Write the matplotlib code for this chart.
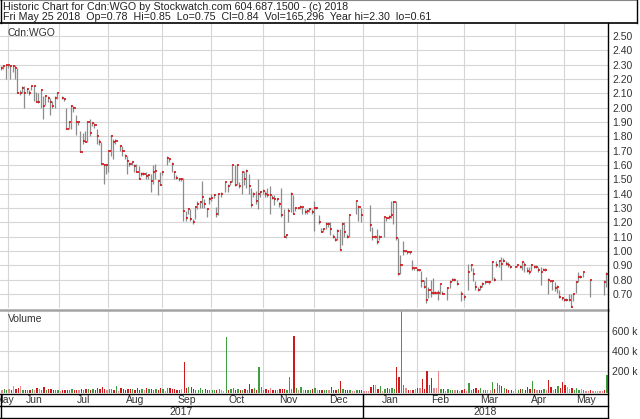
import matplotlib
matplotlib.use("Agg")
import matplotlib.pyplot as plt
import numpy as np
import pandas as pd
from matplotlib.lines import Line2D

plt.rcParams['font.family'] = ['Liberation Sans', 'DejaVu Sans']

nan = np.nan

# one value per weekday from 2017-05-29 to 2018-05-25 (nan = holiday / no trade)
highs = [
    2.29, 2.30, 2.30,  # May
    2.30, 2.30, 2.30, 2.30, 2.28, 2.12, 2.15, 2.15, 2.14, 2.12, 2.15, 2.15, 2.11, 2.10, 2.12, 2.08, 2.09, 2.08, 2.07, 2.05, 2.08, 2.10,  # Jun
    nan, 2.08, 2.07, 2.00, 1.91, 2.02, 2.01, 1.95, 1.91, 1.84, 1.82, 1.84, 1.90, 1.92, 1.90, 1.89, 1.85, 1.78, 1.76, 1.61, 1.61,  # Jul
    1.70, 1.81, 1.78, 1.78, nan, 1.74, 1.73, 1.68, 1.66, 1.62, 1.63, 1.61, 1.61, 1.59, 1.55, 1.55, 1.55, 1.54, 1.54, 1.60, 1.61, 1.49, 1.55,  # Aug
    1.56, nan, 1.66, 1.65, 1.62, 1.56, 1.53, 1.51, 1.51, 1.51, 1.28, 1.30, 1.29, 1.22, 1.31, 1.35, 1.35, 1.49, 1.36, 1.30, 1.38,  # Sep
    1.40, 1.40, 1.31, 1.40, 1.41, nan, 1.48, 1.47, 1.49, 1.60, 1.60, 1.60, 1.48, 1.55, 1.56, 1.57, 1.54, 1.44, 1.41, 1.42, 1.50, 1.42,  # Oct
    1.43, 1.42, 1.44, 1.45, 1.39, 1.39, 1.37, 1.34, 1.44, 1.29, 1.12, 1.30, 1.41, 1.39, 1.31, 1.31, 1.32, 1.31, 1.29, 1.29, 1.30, 1.29,  # Nov
    1.35, 1.31, 1.25, 1.16, 1.16, 1.20, 1.20, 1.20, 1.12, 1.10, 1.15, 1.15, 1.20, 1.20, 1.12, 1.25, nan, nan, 1.35, 1.32, 1.30,  # Dec
    nan, nan, nan, 1.32, 1.17, 1.11, 1.15, 1.11, nan, 1.24, 1.24, 1.25, 1.35, 1.35, 1.35, 1.09, 0.97, 1.07, 1.00, 1.00, 1.00, 0.94, 0.88,  # Jan
    0.88, 0.87, 0.86, 0.80, 0.82, 0.75, 0.80, 0.81, 0.72, 0.73, 0.77, 0.72, nan, 0.75, 0.80, 0.81, 0.81, 0.80, nan, 0.72,  # Feb
    0.70, nan, 0.91, 0.91, 0.88, 0.79, 0.75, 0.76, 0.78, 0.79, 0.79, 0.79, 0.93, 0.82, 0.93, 0.94, 0.96, 0.95, 0.93, 0.92, 0.90, nan,  # Mar
    0.89, 0.90, 0.90, 0.93, 0.92, 0.89, 0.89, 0.91, 0.90, 0.90, 0.89, 0.89, 0.88, 0.88, 0.81, 0.80, 0.80, 0.78, 0.76, 0.73, 0.68,  # Apr
    0.67, 0.67, 0.70, 0.70, 0.70, 0.79, 0.85, 0.83, 0.85, nan, nan, 0.80, nan, nan, nan, nan, nan, 0.80, 0.85,  # May
]
lows = [
    2.26, 2.27, 2.20,
    2.28, 2.20, 2.25, 2.20, 2.10, 2.09, 2.10, 2.00, 2.10, 2.09, 2.12, 2.05, 2.04, 2.03, 2.00, 1.92, 2.02, 2.04, 1.95, 2.00, 2.00, 2.06,
    nan, 2.06, 2.05, 1.85, 1.85, 1.85, 1.97, 1.81, 1.88, 1.69, 1.75, 1.76, 1.76, 1.80, 1.87, 1.86, 1.75, 1.74, 1.61, 1.47, 1.54,
    1.55, 1.66, 1.64, 1.75, nan, 1.70, 1.66, 1.64, 1.54, 1.59, 1.60, 1.55, 1.55, 1.50, 1.52, 1.53, 1.50, 1.50, 1.41, 1.47, 1.50, 1.39, 1.46,
    1.53, nan, 1.60, 1.62, 1.55, 1.50, 1.50, 1.49, 1.49, 1.21, 1.21, 1.26, 1.21, 1.19, 1.22, 1.29, 1.30, 1.30, 1.30, 1.24, 1.33,
    1.35, 1.37, 1.24, 1.25, 1.38, nan, 1.41, 1.41, 1.46, 1.48, 1.45, 1.46, 1.44, 1.40, 1.46, 1.44, 1.40, 1.31, 1.38, 1.33, 1.29, 1.38,
    1.40, 1.38, 1.38, 1.26, 1.36, 1.32, 1.35, 1.31, 1.24, 1.10, 1.09, 1.20, 1.27, 1.26, 1.28, 1.29, 1.29, 1.26, 1.26, 1.26, 1.27, 1.26,
    1.14, 1.29, 1.19, 1.13, 1.13, 1.15, 1.17, 1.11, 1.09, 1.07, 1.08, 1.01, 1.04, 1.10, 1.09, 1.10, nan, nan, 1.26, 1.21, 1.20,
    nan, nan, nan, 1.14, 1.08, 1.09, 1.05, 1.08, nan, 1.10, 1.21, 1.22, 1.23, 1.19, 1.08, 0.83, 0.84, 0.97, 0.99, 0.98, 0.98, 0.87, 0.87,
    0.86, 0.86, 0.75, 0.74, 0.64, 0.67, 0.68, 0.70, 0.70, 0.66, 0.70, 0.70, nan, 0.66, 0.74, 0.79, 0.79, 0.76, nan, 0.65,
    0.66, nan, 0.73, 0.86, 0.79, 0.73, 0.72, 0.73, 0.75, 0.77, 0.78, 0.77, 0.80, 0.79, 0.89, 0.89, 0.80, 0.92, 0.90, 0.89, 0.88, nan,
    0.89, 0.89, 0.88, 0.87, 0.85, 0.85, 0.84, 0.86, 0.88, 0.88, 0.85, 0.76, 0.87, 0.86, 0.70, 0.78, 0.73, 0.72, 0.71, 0.67, 0.66,
    0.65, 0.65, 0.65, 0.61, 0.65, 0.71, 0.78, 0.81, 0.82, nan, nan, 0.68, nan, nan, nan, nan, nan, 0.69, 0.75,
]
closes = [
    2.28, 2.29, 2.30,
    2.30, 2.29, 2.29, 2.28, 2.10, 2.10, 2.14, 2.10, 2.13, 2.10, 2.15, 2.15, 2.04, 2.04, 2.12, 2.01, 2.08, 2.07, 2.04, 2.01, 2.07, 2.10,
    nan, 2.07, 2.06, 1.85, 1.90, 2.01, 2.00, 1.90, 1.90, 1.69, 1.77, 1.76, 1.90, 1.82, 1.89, 1.88, 1.80, 1.76, 1.61, 1.60, 1.60,
    1.70, 1.80, 1.76, 1.77, nan, 1.73, 1.70, 1.66, 1.63, 1.61, 1.62, 1.59, 1.55, 1.50, 1.54, 1.54, 1.52, 1.53, 1.49, 1.55, 1.56, 1.49, 1.46,
    1.55, nan, 1.65, 1.64, 1.61, 1.55, 1.51, 1.50, 1.50, 1.28, 1.23, 1.29, 1.22, 1.20, 1.31, 1.33, 1.34, 1.38, 1.33, 1.29, 1.36,
    1.37, 1.39, 1.26, 1.40, 1.40, nan, 1.48, 1.45, 1.48, 1.60, 1.46, 1.60, 1.45, 1.55, 1.50, 1.56, 1.45, 1.32, 1.40, 1.35, 1.40, 1.41,
    1.42, 1.40, 1.39, 1.39, 1.37, 1.36, 1.36, 1.33, 1.25, 1.10, 1.11, 1.28, 1.40, 1.26, 1.30, 1.30, 1.31, 1.31, 1.27, 1.28, 1.29, 1.27,
    1.30, 1.30, 1.20, 1.13, 1.15, 1.19, 1.19, 1.15, 1.10, 1.08, 1.14, 1.01, 1.19, 1.13, 1.10, 1.25, nan, nan, 1.35, 1.31, 1.25,
    nan, nan, nan, 1.18, 1.10, 1.10, 1.06, 1.10, nan, 1.24, 1.23, 1.24, 1.25, 1.34, 1.09, 0.84, 0.90, 1.00, 1.00, 0.99, 0.99, 0.88, 0.88,
    0.87, 0.87, 0.79, 0.75, 0.66, 0.73, 0.71, 0.71, 0.71, 0.71, 0.77, 0.70, nan, 0.74, 0.78, 0.80, 0.80, 0.77, nan, 0.70,
    0.68, nan, 0.85, 0.90, 0.84, 0.75, 0.73, 0.75, 0.77, 0.78, 0.78, 0.78, 0.92, 0.80, 0.90, 0.93, 0.91, 0.93, 0.91, 0.90, 0.89, nan,
    0.89, 0.90, 0.89, 0.92, 0.90, 0.86, 0.85, 0.90, 0.89, 0.89, 0.87, 0.85, 0.87, 0.87, 0.80, 0.79, 0.79, 0.74, 0.75, 0.68, 0.67,
    0.66, 0.66, 0.66, 0.61, 0.70, 0.78, 0.82, 0.82, 0.85, nan, nan, 0.80, nan, nan, nan, nan, nan, 0.78, 0.84,
]
# volume in thousands of shares
volumes = [
    15, 20, 12,
    18, 10, 50, 20, 30, 47, 10, 8, 12, 15, 20, 12, 27, 25, 12, 37, 15, 20, 25, 8, 10, 12,
    0, 10, 12, 15, 10, 18, 12, 15, 10, 20, 15, 25, 18, 12, 20, 15, 27, 20, 37, 25, 15,
    20, 17, 12, 50, 0, 27, 17, 15, 20, 25, 17, 12, 27, 15, 20, 12, 27, 20, 17, 15, 22, 12, 27,
    20, 0, 27, 30, 17, 20, 12, 15, 20, 293, 27, 40, 43, 20, 15, 12, 30, 10, 25, 12, 15,
    10, 12, 15, 20, 10, 0, 537, 15, 20, 27, 15, 20, 12, 15, 20, 12, 70, 20, 27, 15, 243, 37,
    15, 20, 12, 27, 10, 15, 12, 20, 17, 20, 12, 140, 17, 550, 27, 15, 43, 12, 15, 10, 12, 17,
    27, 15, 12, 10, 15, 12, 10, 37, 15, 12, 20, 100, 17, 10, 12, 15, 0, 0, 10, 12, 15,
    0, 0, 0, 43, 60, 60, 17, 50, 0, 17, 27, 17, 30, 17, 243, 137, 810, 60, 27, 10, 15, 12, 17,
    30, 30, 120, 20, 205, 60, 127, 27, 27, 203, 17, 17, 0, 17, 12, 10, 15, 12, 0, 10,
    17, 0, 83, 15, 17, 27, 10, 27, 12, 10, 15, 12, 93, 17, 83, 60, 50, 27, 17, 10, 12, 0,
    20, 15, 25, 17, 15, 43, 20, 100, 17, 12, 10, 15, 20, 12, 107, 43, 15, 20, 50, 30, 93,
    60, 37, 20, 27, 15, 27, 12, 20, 10, 0, 0, 12, 0, 0, 0, 0, 0, 12, 165,
]

price_ticks = [0.70, 0.80, 0.90, 1.00, 1.10, 1.20, 1.30, 1.40, 1.50, 1.60, 1.70, 1.80, 1.90,
               2.00, 2.10, 2.20, 2.30, 2.40, 2.50]
vol_ticks = [200, 400, 600]
vol_labels = ['200 k', '400 k', '600 k']
header1 = "Historic Chart for Cdn:WGO by Stockwatch.com 604.687.1500 - (c) 2018"
header2 = ("Fri May 25 2018  Op=0.78  Hi=0.85  Lo=0.75  Cl=0.84  Vol=165,296  "
           "Year hi=2.30  lo=0.61")

dates = pd.bdate_range('2017-05-29', '2018-05-25')
x = np.arange(len(dates))
hi = np.array(highs)
lo = np.array(lows)
cl = np.array(closes)
vol = np.array(volumes, dtype=float)

W, H = 640, 419
fig = plt.figure(figsize=(W / 100, H / 100), dpi=100)


def box(left, top, right, bottom):
    return fig.add_axes([left / W, 1 - bottom / H, (right - left) / W, (bottom - top) / H])


def fig_line(x0, y0, x1, y1, **kw):
    fig.add_artist(Line2D([x0 / W, x1 / W], [1 - y0 / H, 1 - y1 / H],
                          transform=fig.transFigure, **kw))


XMIN, XMAX = -0.43, 259.85
grid_c = '#d6d6d6'
text_c = '#333333'
fs = 7.5

# month boundaries (first weekday of each month)
starts = [i for i in range(1, len(dates)) if dates[i].month != dates[i - 1].month]
edges = [XMIN] + starts + [XMAX]
month_names = [dates[0].strftime('%b')] + [dates[i].strftime('%b') for i in starts]
jan = [i for i in starts if dates[i].month == 1][0]

# ---- price panel
ax_p = box(0, 24, 608, 308)
ax_p.set_xlim(XMIN, XMAX)
ax_p.set_ylim(0.602, 2.584)
for v in price_ticks:
    ax_p.axhline(v, color=grid_c, lw=0.8, zorder=0)
for s in starts:
    ax_p.axvline(s, color=grid_c, lw=0.8, zorder=0)
ok = ~np.isnan(cl)
ax_p.vlines(x[ok], lo[ok], hi[ok], color='#8c8c8c', lw=0.9, zorder=2)
ax_p.hlines(cl[ok], x[ok], x[ok] + 0.9, color='#d01414', lw=1.2, zorder=3)
ax_p.yaxis.tick_right()
ax_p.set_yticks(price_ticks)
ax_p.set_yticklabels([f'{v:.2f}' for v in price_ticks])
ax_p.tick_params(axis='y', length=0, pad=3, labelsize=fs, labelcolor=text_c)
ax_p.tick_params(axis='x', bottom=False, labelbottom=False)
for sp in ax_p.spines.values():
    sp.set_visible(False)
ax_p.text(8 / 608, 1 - 9 / 284, 'Cdn:WGO', transform=ax_p.transAxes, fontsize=fs,
          color=text_c, va='center', ha='left')

# ---- volume panel
VMIN, VMAX = -23, 810
ax_v = box(0, 310, 608, 393.3)
ax_v.set_xlim(XMIN, XMAX)
ax_v.set_ylim(VMIN, VMAX)
for v in vol_ticks:
    ax_v.axhline(v, color=grid_c, lw=0.8, zorder=0)
for s in starts:
    ax_v.axvline(s, color=grid_c, lw=0.8, zorder=0)
colors = []
prev = nan
for c in cl:
    if np.isnan(c) or np.isnan(prev) or c == prev:
        colors.append('#e88a8a')
    elif c > prev:
        colors.append('#3f9f3f')
    else:
        colors.append('#cc1a1a')
    if not np.isnan(c):
        prev = c
ax_v.bar(x + 0.4, vol - VMIN, bottom=VMIN, width=0.55, color=colors, zorder=2)
ax_v.yaxis.tick_right()
ax_v.set_yticks(vol_ticks)
ax_v.set_yticklabels(vol_labels)
ax_v.tick_params(axis='y', length=0, pad=3, labelsize=fs, labelcolor=text_c)
ax_v.tick_params(axis='x', bottom=False, labelbottom=False)
for sp in ax_v.spines.values():
    sp.set_visible(False)
ax_v.text(8 / 608, 1 - 9 / 83.3, 'Volume', transform=ax_v.transAxes, fontsize=fs,
          color=text_c, va='center', ha='left')

# ---- month row
ax_m = box(0, 393.3, 608, 406)
ax_m.set_xlim(XMIN, XMAX)
ax_m.set_ylim(0, 1)
ax_m.axis('off')
for name, a, b in zip(month_names, edges[:-1], edges[1:]):
    ax_m.text((a + b) / 2, 0.5, name, ha='center', va='center', fontsize=fs,
              color=text_c, clip_on=True)

# ---- year row
ax_y = box(0, 406, 608, 417)
ax_y.set_xlim(XMIN, XMAX)
ax_y.set_ylim(0, 1)
ax_y.axis('off')
ax_y.text((XMIN + jan) / 2, 0.5, str(dates[0].year), ha='center', va='center',
          fontsize=fs, color=text_c)
ax_y.text((jan + XMAX) / 2, 0.5, str(dates[-1].year), ha='center', va='center',
          fontsize=fs, color=text_c)

# ---- frame lines
jan_px = (jan - XMIN) / (XMAX - XMIN) * 608
fig_line(0, 309.5, 608, 309.5, color='#a4a4a4', lw=1.8)
fig_line(608, 23, 608, 419, color='black', lw=1.0)
fig_line(0, 393.5, 608, 393.5, color='black', lw=1.0)
fig_line(0, 406, 608, 406, color='black', lw=1.0)
fig_line(0, 417.5, 608, 417.5, color='black', lw=1.0)
fig_line(0.5, 393.5, 0.5, 417.5, color='black', lw=1.0)
fig_line(jan_px, 393.5, jan_px, 417.5, color='black', lw=1.0)
# header box
fig_line(0, 0.5, 637, 0.5, color='#888888', lw=0.8)
fig_line(0.5, 0.5, 0.5, 23, color='black', lw=1.0)
fig_line(637, 0.5, 637, 23, color='black', lw=1.0)
fig_line(0, 23, 637, 23, color='black', lw=1.2)
fig.text(3 / W, 1 - 7.5 / H, header1, fontsize=7.7, va='center', ha='left', color='#222222')
fig.text(3 / W, 1 - 17.5 / H, header2, fontsize=7.7, va='center', ha='left', color='#222222')

fig.savefig('out.png', dpi=100, facecolor='white')
